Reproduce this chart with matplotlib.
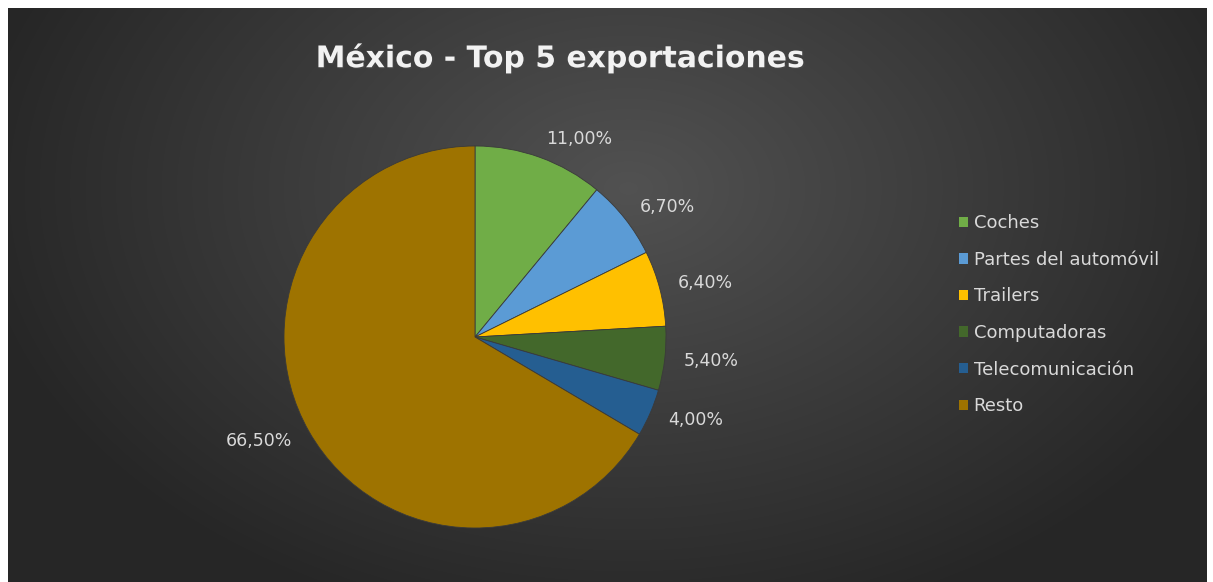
import numpy as np
import matplotlib
matplotlib.use("Agg")
import matplotlib.pyplot as plt
import matplotlib.patheffects as pe

categorias = ["Coches", "Partes del automóvil", "Trailers", "Computadoras",
              "Telecomunicación", "Resto"]
porcentajes = [11.0, 6.7, 6.4, 5.4, 4.0, 66.5]
colores = ["#70AD47", "#5B9BD5", "#FFC000", "#43682B", "#255E91", "#9E7300"]
etiquetas = [("%.2f%%" % p).replace(".", ",") for p in porcentajes]

W, H = 1213, 582
fig = plt.figure(figsize=(W / 100, H / 100), dpi=100, facecolor="white")

# fondo con degradado radial
bg = fig.add_axes([8 / W, 0, (1207 - 8) / W, (H - 8) / H])
yy, xx = np.mgrid[0:574, 0:1199]
d = np.sqrt(((xx - 620) / 700.0) ** 2 + ((yy - 180) / 480.0) ** 2)
g = np.clip(0.32 - 0.18 * d, 0.15, 0.33)
bg.imshow(np.dstack([g, g, g]), aspect="auto", extent=[0, 1, 0, 1], origin="upper")
bg.set_axis_off()

# pastel: centro (475, 337) px, radio 191 px
R = 191
half = 1.5 * R
ax = fig.add_axes([(475 - half) / W, (H - 337 - half) / H, 2 * half / W, 2 * half / H])

wedges, texts = ax.pie(porcentajes, colors=colores, labels=etiquetas,
                       startangle=90, counterclock=False, labeldistance=1.1,
                       wedgeprops=dict(edgecolor="#3a3a3a", linewidth=0.6),
                       textprops=dict(color="#D9D9D9", fontsize=12.5, family="DejaVu Sans"))
ax.set_xlim(-1.5, 1.5)
ax.set_ylim(-1.5, 1.5)
ax.set_axis_off()

fig.text(560 / W, 1 - 58 / H, "México - Top 5 exportaciones", ha="center", va="center",
         color="#F2F2F2", fontsize=21.5, fontweight="bold", family="DejaVu Sans",
         path_effects=[pe.withSimplePatchShadow(offset=(1, -1), alpha=0.6)])

leg = fig.legend(wedges, categorias, loc="upper left",
                 bbox_to_anchor=(952 / W, 1 - 207 / H), frameon=False,
                 prop=dict(family="DejaVu Sans", size=13), labelcolor="#D9D9D9",
                 handlelength=0.5, handleheight=0.5, handletextpad=0.3,
                 labelspacing=1.03, borderaxespad=0)
for h in leg.legend_handles:
    h.set_edgecolor("none")

fig.savefig("out.png", dpi=100, facecolor="white")
